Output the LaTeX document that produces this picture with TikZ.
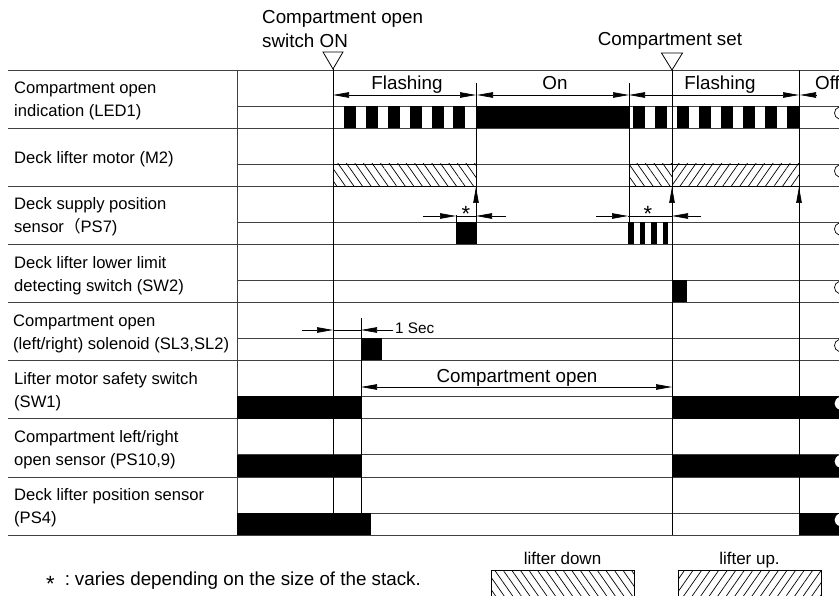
\documentclass[tikz,border=0pt]{standalone}
\usepackage{fontspec}
\setmainfont{Liberation Sans}
\newfontfamily\cjk{Noto Sans CJK SC}
\usetikzlibrary{arrows.meta,patterns.meta}
\tikzset{
	rowline/.style={line width=0.8pt, black!75},
	timeline/.style={line width=0.8pt},
	period/.style={{Triangle[length=16pt,width=5.5pt]}-{Triangle[length=16pt,width=5.5pt]}, line width=0.7pt},
	pointer/.style={-{Triangle[length=16pt,width=5.5pt]}, line width=0.7pt},
	liftdown/.style={pattern={Lines[angle=-55,distance=7pt,line width=0.7pt]}},
	liftup/.style={pattern={Lines[angle=55,distance=7pt,line width=0.7pt]}},
	lbl/.style={anchor=west, align=left, inner sep=0pt, font=\fontsize{16.6}{23}\selectfont},
	hdr/.style={inner sep=0pt, font=\fontsize{18.8}{24}\selectfont},
	secfont/.style={inner sep=0pt, font=\fontsize{15.3}{18}\selectfont},
	astfont/.style={inner sep=0pt, font=\fontsize{22}{22}\selectfont},
	cutmark/.style={line width=0.7pt}
}

\begin{document}
\begin{tikzpicture}[x=1pt, y=-1pt]
	\useasboundingbox (0,0) rectangle (839,596);
	\foreach \y in {70,128,186,244.5,302.5,360.5,418.5,477,535}
		\draw[rowline] (8,\y) -- (839,\y);
	\foreach \y in {106,164,222,280.5,338.5,396.5,454.5,513}
		\draw[rowline] (237,\y) -- (839,\y);
	\draw[rowline] (237,70) -- (237,535);

	\node[lbl] (led) at (14,101) {Compartment open\\indication (LED1)};
	\node[lbl] (motor) at (14,159) {Deck lifter motor (M2)};
	\node[lbl] (supply) at (14,217) {Deck supply position\\sensor{\cjk （}PS7)};
	\node[lbl] (lower) at (14,275.5) {Deck lifter lower limit\\detecting switch (SW2)};
	\node[lbl] (solenoid) at (13,333.5) {Compartment open\\(left/right) solenoid (SL3,SL2)};
	\node[lbl] (safety) at (14,391.5) {Lifter motor safety switch\\(SW1)};
	\node[lbl] (opensens) at (14,450) {Compartment left/right\\open sensor (PS10,9)};
	\node[lbl] (lifterpos) at (14,508) {Deck lifter position sensor\\(PS4)};

	\coordinate (swon) at (333,69);
	\coordinate (cset) at (672,70);
	\draw[timeline, fill=white] (swon) -- ++(-10,-17) -- ++(20,0) -- cycle;
	\draw[timeline, fill=white] (cset) -- ++(-10.5,-17) -- ++(21,0) -- cycle;
	\node[hdr, anchor=west, align=left] (swontxt) at (262,29) {Compartment open\\switch ON};
	\node[hdr, anchor=base] (csettxt) at (670,46) {Compartment set};

	\draw[timeline] (swon) -- (333,513);
	\draw[timeline] (361,318) -- (361,513);
	\draw[timeline] (476,83) -- (476,244.5);
	\draw[timeline] (629,83) -- (629,222);
	\draw[timeline] (cset) -- (672,535);
	\draw[timeline] (799,70) -- (799,535);

	\foreach \x in {344,366,388,410,432,453}
		\fill (\x,106) rectangle ++(12,22);
	\fill (476,106) rectangle (629,128);
	\foreach \x in {633,655,...,787}
		\fill (\x,106) rectangle ++(12,22);
	\draw[period] (333,95) -- (476,95);
	\draw[period] (477,95) -- (629,95);
	\draw[period] (629,95) -- (799,95);
	\draw[pointer] (816,95) -- (800,95);
	\node[hdr, anchor=base] (flash1) at (407,90) {Flashing};
	\node[hdr, anchor=base] (ontxt) at (555,90) {On};
	\node[hdr, anchor=base] (flash2) at (720,90) {Flashing};
	\node[hdr, anchor=base west] (offtxt) at (815,90) {Off};

	\draw[timeline, liftdown] (333,164) rectangle (476,186);
	\draw[timeline, liftdown] (629,164) rectangle (672,186);
	\draw[timeline, liftup] (672,164) rectangle (799,186);
	\draw[pointer] (476,204) -- (476,187);
	\draw[pointer] (672,204) -- (672,187);
	\draw[pointer] (799,204) -- (799,187);

	\fill (456,222) rectangle (476,244.5);
	\foreach \x in {628,639.5,651,662.5}
		\fill (\x,222) rectangle ++(5.5,22.5);
	\draw[timeline] (456,215) -- (456,222);
	\draw[pointer] (423,216) -- (456,216);
	\draw[timeline] (456,216) -- (476,216);
	\draw[pointer] (506,216) -- (476,216);
	\node[astfont, anchor=base] (ast1) at (466,222) {*};
	\draw[pointer] (596,216) -- (628,216);
	\draw[timeline] (628,216) -- (672,216);
	\draw[pointer] (701,216) -- (672,216);
	\node[astfont, anchor=base] (ast2) at (648,222) {*};

	\fill (672,280.5) rectangle (687,302.5);

	\fill (361,338.5) rectangle (382,360.5);
	\draw[pointer] (302,330) -- (333,330);
	\draw[timeline] (333,330) -- (361,330);
	\draw[pointer] (393,330) -- (361,330);
	\node[secfont, anchor=west] (onesec) at (395,328) {1 Sec};

	\fill (237,396.5) rectangle (361,418.5);
	\fill (672,396.5) rectangle (839,418.5);
	\draw[period] (361,387) -- (672,387);
	\node[hdr, anchor=base] (opentxt) at (517,383) {Compartment open};
	\fill (237,454.5) rectangle (361,477);
	\fill (672,454.5) rectangle (839,477);
	\fill (237,513) rectangle (371,535);
	\fill (799,513) rectangle (839,535);

	\foreach \y in {106,164,222,280.5,338.5}
		\draw[cutmark] (839,{\y+1}) .. controls (833,{\y+3}) and (833,{\y+11}) .. (839,{\y+13});
	\foreach \y in {396.5,454.5,513}
		\fill[white] (839.5,{\y+0.5}) .. controls (833,{\y+3}) and (833,{\y+11}) .. (839.5,{\y+13}) -- cycle;

	\node[hdr, anchor=base west] (note) at (46,585) {\raisebox{-6pt}{\fontsize{22}{22}\selectfont *}\hspace{10pt}:\hspace{5pt}varies depending on the size of the stack.};
	\node[hdr, font=\fontsize{17}{20}\selectfont, anchor=base] (downtxt) at (562.5,564) {lifter down};
	\node[hdr, font=\fontsize{17}{20}\selectfont, anchor=base] (uptxt) at (749.5,564) {lifter up.};
	\node[draw, liftdown, line width=0.7pt, anchor=north west, minimum width=143pt, minimum height=34pt, inner sep=0pt] (downkey) at (491,570) {};
	\node[draw, liftup, line width=0.7pt, anchor=north west, minimum width=143pt, minimum height=34pt, inner sep=0pt] (upkey) at (678,570) {};
\end{tikzpicture}
\end{document}
